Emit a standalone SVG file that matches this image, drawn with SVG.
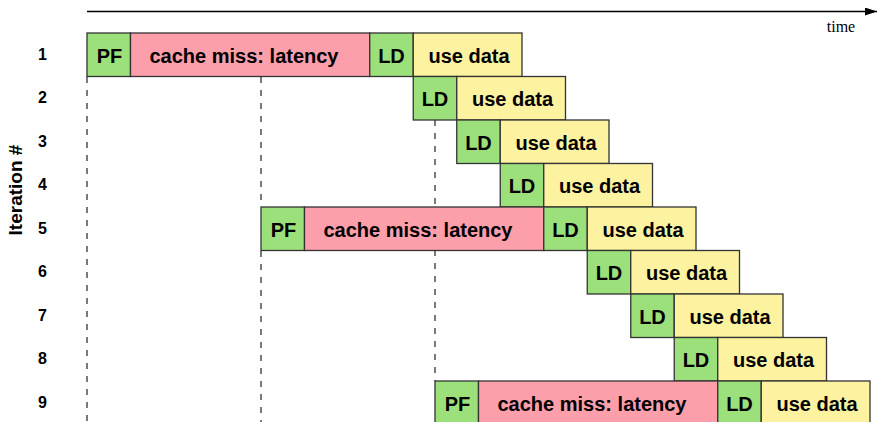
<svg xmlns="http://www.w3.org/2000/svg" width="878" height="422" viewBox="0 0 878 422">
<defs>
<style>
.pf,.ld{fill:#9ce07c;stroke:#333;stroke-width:1.3}
.cm{fill:#fd9eab;stroke:#333;stroke-width:1.3}
.ud{fill:#fcf2a0;stroke:#333;stroke-width:1.3}
.bt{font-family:"Liberation Sans",Arial,sans-serif;font-weight:bold;font-size:20px;fill:#000;text-anchor:middle}
.rl{font-family:"Liberation Sans",Arial,sans-serif;font-weight:bold;font-size:16px;fill:#000;text-anchor:middle}
.dash{stroke:#222;stroke-width:1.2;stroke-dasharray:6,7;fill:none}
</style>
<marker id="arr" markerWidth="12" markerHeight="8" refX="12" refY="4" orient="auto" markerUnits="userSpaceOnUse">
<path d="M0,0 L12,4 L0,8 Z" fill="#000"/>
</marker>
</defs>
<rect width="878" height="422" fill="#fff"/>

<g id="connectors">
<line x1="87" y1="11.5" x2="877" y2="11.5" stroke="#000" stroke-width="1.3" marker-end="url(#arr)"/>
<line class="dash" x1="87" y1="77" x2="87" y2="422"/>
<line class="dash" x1="261" y1="77" x2="261" y2="207"/>
<line class="dash" x1="261" y1="251" x2="261" y2="422"/>
<line class="dash" x1="435" y1="120" x2="435" y2="381"/>
</g>

<text x="841" y="32" font-family="Liberation Serif,'Times New Roman',serif" font-size="16" text-anchor="middle">time</text>
<text transform="translate(22,190) rotate(-90)" font-family="Liberation Sans,Arial,sans-serif" font-weight="bold" font-size="19" text-anchor="middle">Iteration #</text>

<g id="labels">
<text class="rl" x="42.5" y="59.5">1</text>
<text class="rl" x="42.5" y="103">2</text>
<text class="rl" x="42.5" y="146.5">3</text>
<text class="rl" x="42.5" y="190">4</text>
<text class="rl" x="42.5" y="233.5">5</text>
<text class="rl" x="42.5" y="277">6</text>
<text class="rl" x="42.5" y="320.5">7</text>
<text class="rl" x="42.5" y="364">8</text>
<text class="rl" x="42.5" y="407.5">9</text>
</g>

<g id="iter1">
<rect class="pf" x="87" y="33" width="43.5" height="43.5"/><text class="bt" x="109.5" y="62.5">PF</text>
<rect class="cm" x="130.5" y="33" width="239.25" height="43.5"/><text class="bt" x="244" y="62.5">cache miss: latency</text>
<rect class="ld" x="369.75" y="33" width="43.5" height="43.5"/><text class="bt" x="391.5" y="62.5">LD</text>
<rect class="ud" x="413.25" y="33" width="108.75" height="43.5"/><text class="bt" x="469" y="62.5">use data</text>
</g>
<g id="iter2">
<rect class="ld" x="413.25" y="76.5" width="43.5" height="43.5"/><text class="bt" x="435" y="106">LD</text>
<rect class="ud" x="456.75" y="76.5" width="108.75" height="43.5"/><text class="bt" x="512.5" y="106">use data</text>
</g>
<g id="iter3">
<rect class="ld" x="456.75" y="120" width="43.5" height="43.5"/><text class="bt" x="478.5" y="149.5">LD</text>
<rect class="ud" x="500.25" y="120" width="108.75" height="43.5"/><text class="bt" x="556" y="149.5">use data</text>
</g>
<g id="iter4">
<rect class="ld" x="500.25" y="163.5" width="43.5" height="43.5"/><text class="bt" x="522" y="193">LD</text>
<rect class="ud" x="543.75" y="163.5" width="108.75" height="43.5"/><text class="bt" x="599.5" y="193">use data</text>
</g>
<g id="iter5">
<rect class="pf" x="261" y="207" width="43.5" height="43.5"/><text class="bt" x="283.5" y="236.5">PF</text>
<rect class="cm" x="304.5" y="207" width="239.25" height="43.5"/><text class="bt" x="418" y="236.5">cache miss: latency</text>
<rect class="ld" x="543.75" y="207" width="43.5" height="43.5"/><text class="bt" x="565.5" y="236.5">LD</text>
<rect class="ud" x="587.25" y="207" width="108.75" height="43.5"/><text class="bt" x="643" y="236.5">use data</text>
</g>
<g id="iter6">
<rect class="ld" x="587.25" y="250.5" width="43.5" height="43.5"/><text class="bt" x="609" y="280">LD</text>
<rect class="ud" x="630.75" y="250.5" width="108.75" height="43.5"/><text class="bt" x="686.5" y="280">use data</text>
</g>
<g id="iter7">
<rect class="ld" x="630.75" y="294" width="43.5" height="43.5"/><text class="bt" x="652.5" y="323.5">LD</text>
<rect class="ud" x="674.25" y="294" width="108.75" height="43.5"/><text class="bt" x="730" y="323.5">use data</text>
</g>
<g id="iter8">
<rect class="ld" x="674.25" y="337.5" width="43.5" height="43.5"/><text class="bt" x="696" y="367">LD</text>
<rect class="ud" x="717.75" y="337.5" width="108.75" height="43.5"/><text class="bt" x="773.5" y="367">use data</text>
</g>
<g id="iter9">
<rect class="pf" x="435" y="381" width="43.5" height="43.5"/><text class="bt" x="457.5" y="410.5">PF</text>
<rect class="cm" x="478.5" y="381" width="239.25" height="43.5"/><text class="bt" x="592" y="410.5">cache miss: latency</text>
<rect class="ld" x="717.75" y="381" width="43.5" height="43.5"/><text class="bt" x="739.5" y="410.5">LD</text>
<rect class="ud" x="761.25" y="381" width="108.75" height="43.5"/><text class="bt" x="817" y="410.5">use data</text>
</g>
</svg>
